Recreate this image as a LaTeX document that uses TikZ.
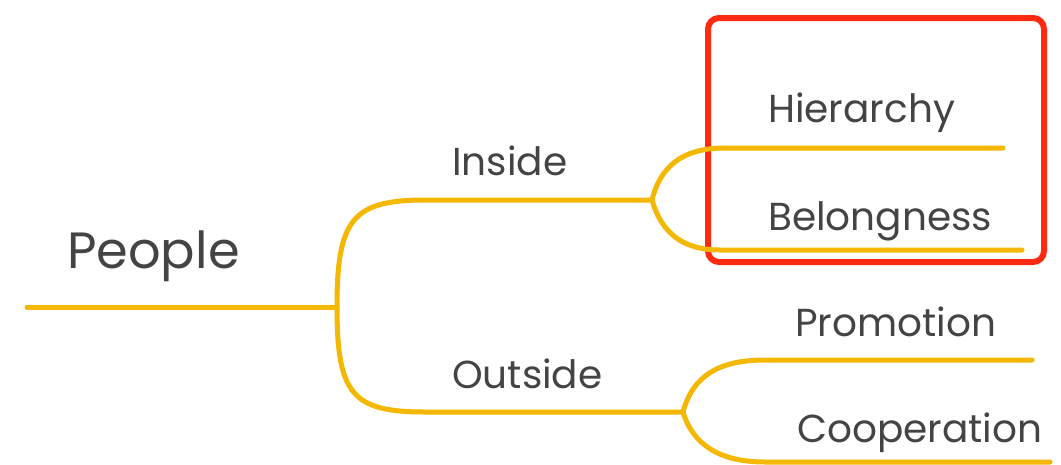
\documentclass[tikz,border=0pt]{standalone}
\usepackage{fontspec}
\setmainfont{Poppins}
\definecolor{branch}{HTML}{F5B800}
\definecolor{frame}{HTML}{FF2A10}
\definecolor{ink}{HTML}{444444}
\begin{document}
\begin{tikzpicture}[x=1pt,y=-1pt,
  br/.style={draw=branch,line width=5pt,line cap=round},
  lbl/.style={anchor=base west,inner sep=0pt,text=ink,font=\fontsize{39}{44}\selectfont},
  big/.style={anchor=base west,inner sep=0pt,text=ink,font=\fontsize{51}{56}\selectfont}]
\useasboundingbox[fill=white] (0,0) rectangle (1061,464);
% coordinates
\coordinate (root) at (27,307);
\coordinate (j0) at (337,307);
\coordinate (inE) at (652,200);
\coordinate (outE) at (683,412);
\coordinate (hE) at (1003,148);
\coordinate (bE) at (1022,250);
\coordinate (pE) at (1032,360);
\coordinate (cE) at (1050,462);
% frame
\node[draw=frame,line width=6pt,rounded corners=11pt,minimum width=336pt,minimum height=244pt,inner sep=0pt] (box) at (876,140) {};
% branches
\draw[br] (root) -- (j0);
\draw[br] (j0) .. controls (337,220) and (352,200) .. (425,200) -- (inE);
\draw[br] (j0) .. controls (337,394) and (352,412) .. (425,412) -- (outE);
\draw[br] (inE) .. controls (662,160) and (690,148) .. (725,148) -- (hE);
\draw[br] (inE) .. controls (662,235) and (685,250) .. (720,250) -- (bE);
\draw[br] (outE) .. controls (693,375) and (720,360) .. (765,360) -- (pE);
\draw[br] (outE) .. controls (693,445) and (720,462) .. (765,462) -- (cE);
% labels
\node[big] (people) at (67,268) {People};
\node[lbl] (inside) at (452,175) {Inside};
\node[lbl] (outside) at (452,388) {Outside};
\node[lbl] (hier) at (768,122) {Hierarchy};
\node[lbl] (belong) at (768,230) {Belongness};
\node[lbl] (promo) at (795,336) {Promotion};
\node[lbl] (coop) at (797,442) {Cooperation};
\end{tikzpicture}
\end{document}
